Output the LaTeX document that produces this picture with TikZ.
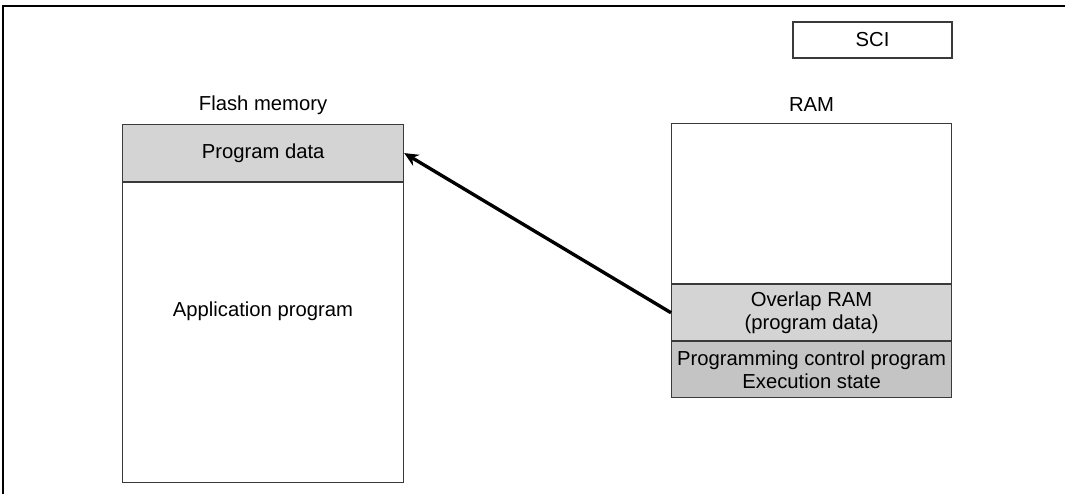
\documentclass[tikz,border=0pt]{standalone}
\usepackage{fontspec}
\setmainfont{Liberation Sans}
\usetikzlibrary{arrows.meta,positioning}
\definecolor{CellLight}{HTML}{D4D4D4}
\definecolor{CellMid}{HTML}{C4C4C4}
\definecolor{EdgeGray}{HTML}{3A3A3A}
\newcommand\memfont{\fontsize{14.4}{16.4}\selectfont}
\tikzset{
  memcell/.style={draw=EdgeGray, line width=0.8pt, inner sep=0, align=center, font=\memfont},
  memlabel/.style={inner sep=0, font=\memfont}
}
\begin{document}
\begin{tikzpicture}[x=0.025cm, y=-0.025cm]
    \useasboundingbox (0,0) rectangle (1065,494);
    \draw[line width=2pt] (3,494) -- (3,6) -- (1065,6);
    % flash memory
    \node[memcell, fill=CellLight, minimum width=7.025cm, minimum height=1.425cm, anchor=north west] (flashdata) at (122,124) {Program data};
    \node[memcell, fill=white, minimum width=7.025cm, minimum height=7.5cm, below=0pt of flashdata] (flashapp) {};
    \node[memlabel] (applabel) at (263,311) {Application program};
    \node[memlabel] (flashlabel) at ([yshift=0.475cm]flashdata.north) {Flash memory};
    % RAM
    \node[memcell, fill=white, minimum width=7cm, minimum height=4cm, anchor=north west] (ramfree) at (671,123) {};
    \node[memcell, fill=CellLight, minimum width=7cm, minimum height=1.4cm, below=0pt of ramfree] (ramoverlap) {Overlap RAM\\(program data)};
    \node[memcell, fill=CellMid, minimum width=7cm, minimum height=1.4cm, below=0pt of ramoverlap] (ramexec) {Programming control program\\Execution state};
    \node[memlabel] (ramlabel) at ([yshift=0.45cm]ramfree.north) {RAM};
    \node[memcell, fill=white, minimum width=3.975cm, minimum height=0.9cm] (sci) at (872.5,40) {SCI};
    \draw[line width=2.4pt, -{Stealth[length=10pt, width=9pt]}] (ramoverlap.west) -- (flashdata.east);
  \end{tikzpicture}
\end{document}
